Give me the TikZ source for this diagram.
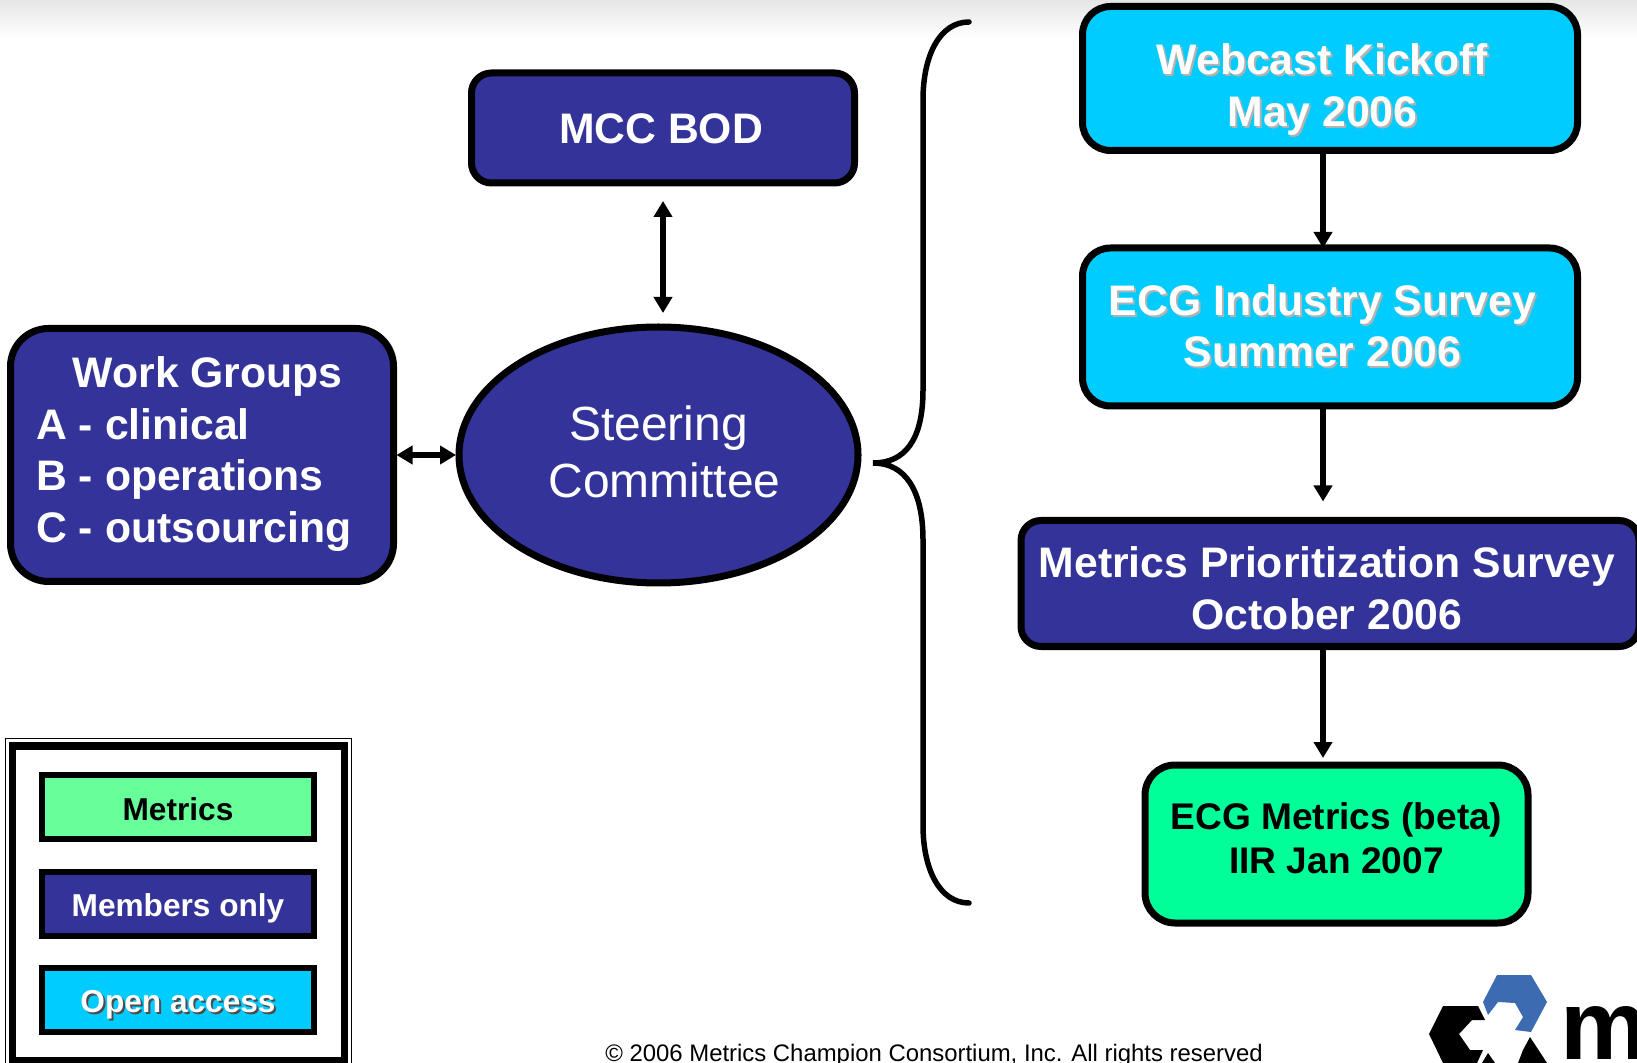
\documentclass[tikz,border=0pt]{standalone}
\usepackage{fontspec}
\setmainfont{Liberation Sans}
\usetikzlibrary{shapes.geometric, arrows.meta, calc}
\definecolor{navy}{HTML}{333399}
\definecolor{sky}{HTML}{00CCFF}
\definecolor{mint}{HTML}{00FF99}
\definecolor{paleMint}{HTML}{66FF99}
\tikzstyle{base} = [draw=black, line width=.07cm, inner sep=0, outer sep=0]
\tikzstyle{members} = [base, rectangle, fill=navy, text=white]
\tikzstyle{open} = [base, rectangle, fill=sky, text=white]
\tikzstyle{key} = [base, rectangle, line width=.06cm, minimum width=2.72cm, minimum height=.64cm, font=\fontsize{9}{11}\selectfont\bfseries]
\tikzstyle{arrow} = [line width=.06cm, >={Triangle[length=.16cm,width=.18cm]}]
% text block centred on the node, then moved by dx, dy
\newcommand{\moved}[3]{\raisebox{\dimexpr #2-.36em\relax}[0pt][0pt]{\makebox[0pt]{\hspace*{\dimexpr 2\dimexpr #1\relax\relax}\begin{tabular}{@{}c@{}}#3\end{tabular}}}}
\newcommand{\shadowed}[2][black!30]{\makebox[0pt][l]{\hspace{.02cm}\raisebox{-.02cm}{\textcolor{#1}{#2}}}#2}

\begin{document}
\begin{tikzpicture}
\useasboundingbox (0, 0) rectangle (16.37, -10.63);
\shade[top color=black!10, bottom color=white] (0, 0) rectangle (16.37, -.38);

\tikzset{every node/.append style={font=\fontsize{12.15}{14.7}\selectfont\bfseries}}

  \node[members, rounded corners=.2cm, minimum width=3.83cm, minimum height=1.1cm] (mcc) at (6.63, -1.28) {\moved{-.02cm}{0cm}{MCC BOD}};
  \node[members, ellipse, minimum width=3.99cm, minimum height=2.56cm, font=\fontsize{13.65}{16.1}\selectfont] (steering) at (6.585, -4.55) {\moved{0cm}{.02cm}{Steering\\\hspace*{.12cm}Committee}};
  \node[members, rounded corners=.38cm, minimum width=3.83cm, minimum height=2.53cm] (groups) at (2.02, -4.55) {\moved{-.08cm}{.05cm}{\begin{tabular}{@{}l@{}}\hspace*{.365cm}Work Groups\\A - clinical\\B - operations\\C - outsourcing\end{tabular}}};

  \node[open, rounded corners=.28cm, minimum width=4.95cm, minimum height=1.44cm] (webcast) at (13.3, -.785) {\moved{-.075cm}{-.07cm}{\shadowed{Webcast Kickoff}\\\shadowed{May 2006}}};
  \node[open, rounded corners=.28cm, minimum width=4.95cm, minimum height=1.58cm] (survey) at (13.3, -3.27) {\moved{-.075cm}{.01cm}{\shadowed{ECG Industry Survey}\\\shadowed{Summer 2006}}};
  \node[members, rounded corners=.2cm, minimum width=6.18cm, minimum height=1.26cm] (priority) at (13.3, -5.835) {\moved{-.03cm}{-.05cm}{Metrics Prioritization Survey\\October 2006}};
  \node[base, fill=mint, rounded corners=.3cm, minimum width=3.83cm, minimum height=1.58cm, font=\fontsize{10.55}{12.7}\selectfont\bfseries] (ecg) at (13.365, -8.44) {\moved{0cm}{.05cm}{ECG Metrics (beta)\\IIR Jan 2007}};

  % flow on the right runs left of the box centres
  \coordinate (flow) at (13.23, 0);
  \coordinate (link) at (6.63, 0);
  \draw[arrow, ->] (webcast.south -| flow) -- (survey.north -| flow);
  \draw[arrow, ->, shorten >=.19cm] (survey.south -| flow) -- (priority.north -| flow);
  \draw[arrow, ->, shorten >=.07cm] (priority.south -| flow) -- (ecg.north -| flow);

  \draw[arrow, <->, shorten <=.18cm, shorten >=.14cm] (mcc.south -| link) -- (steering.north -| link);
  \draw[arrow, <->, shorten <=.03cm, shorten >=.03cm] (groups.east) -- (steering.west);

  % brace
  \coordinate (braceTop) at (9.69, -.22);
  \coordinate (braceTip) at (8.73, -4.63);
  \coordinate (braceEnd) at (9.69, -9.03);
  \draw[line width=.055cm, line cap=round] (braceTop) .. controls (9.4, -.22) and (9.23, -.55) .. (9.23, -1.0) -- (9.23, -3.9)
    .. controls (9.23, -4.4) and (9.05, -4.63) .. (braceTip)
    .. controls (9.05, -4.63) and (9.23, -4.9) .. (9.23, -5.4) -- (9.23, -8.25)
    .. controls (9.23, -8.7) and (9.4, -9.03) .. (braceEnd);

  % legend
  \node[draw=black, line width=.012cm, minimum width=3.46cm, minimum height=3.3cm, inner sep=0, outer sep=0] (frameOut) at (1.785, -9.035) {};
  \node[draw=black, line width=.073cm, minimum width=3.322cm, minimum height=3.146cm, inner sep=0, outer sep=0] (frameIn) at (1.784, -9.033) {};
  \node[key, fill=paleMint] (keyMetrics) at (1.78, -8.07) {\moved{0cm}{-.02cm}{Metrics}};
  \node[key, fill=navy, text=white] (keyMembers) at (1.78, -9.035) {\moved{0cm}{-.02cm}{Members only}};
  \node[key, fill=sky, text=white] (keyOpen) at (1.78, -9.995) {\moved{0cm}{-.02cm}{\shadowed[black!70]{Open access}}};

  \node[anchor=base, inner sep=0, font=\fontsize{6.8}{8}\selectfont] (copyright) at (9.34, -10.61) {© 2006 Metrics Champion Consortium, Inc. All rights reserved};

  % logo
  \fill[fill={rgb,255:red,61;green,107;blue,178}] (14.97, -9.75) -- (15.31, -9.75) -- (15.47, -10.02) -- (15.31, -10.32) -- (15.15, -10.30) -- (15.23, -10.17) -- (15.15, -10.03) -- (14.98, -10.02) -- (14.88, -10.15) -- (14.83, -10.02) -- cycle;
  \fill[black] (14.43, -10.06) -- (14.78, -10.06) -- (14.85, -10.20) -- (14.72, -10.20) -- (14.59, -10.34) -- (14.70, -10.50) -- (14.83, -10.50) -- (14.77, -10.63) -- (14.43, -10.63) -- (14.29, -10.34) -- cycle;
  \fill[black] (15.30, -10.37) -- (15.47, -10.63) -- (15.18, -10.63) -- (15.23, -10.50) -- cycle;
  \fill[black] (14.88, -10.53) -- (14.95, -10.63) -- (14.82, -10.63) -- cycle;
  \node[anchor=base west, inner sep=0, font=\fontsize{28}{28}\selectfont\bfseries] (logoM) at (15.6, -10.59) {m};
\end{tikzpicture}
\end{document}
